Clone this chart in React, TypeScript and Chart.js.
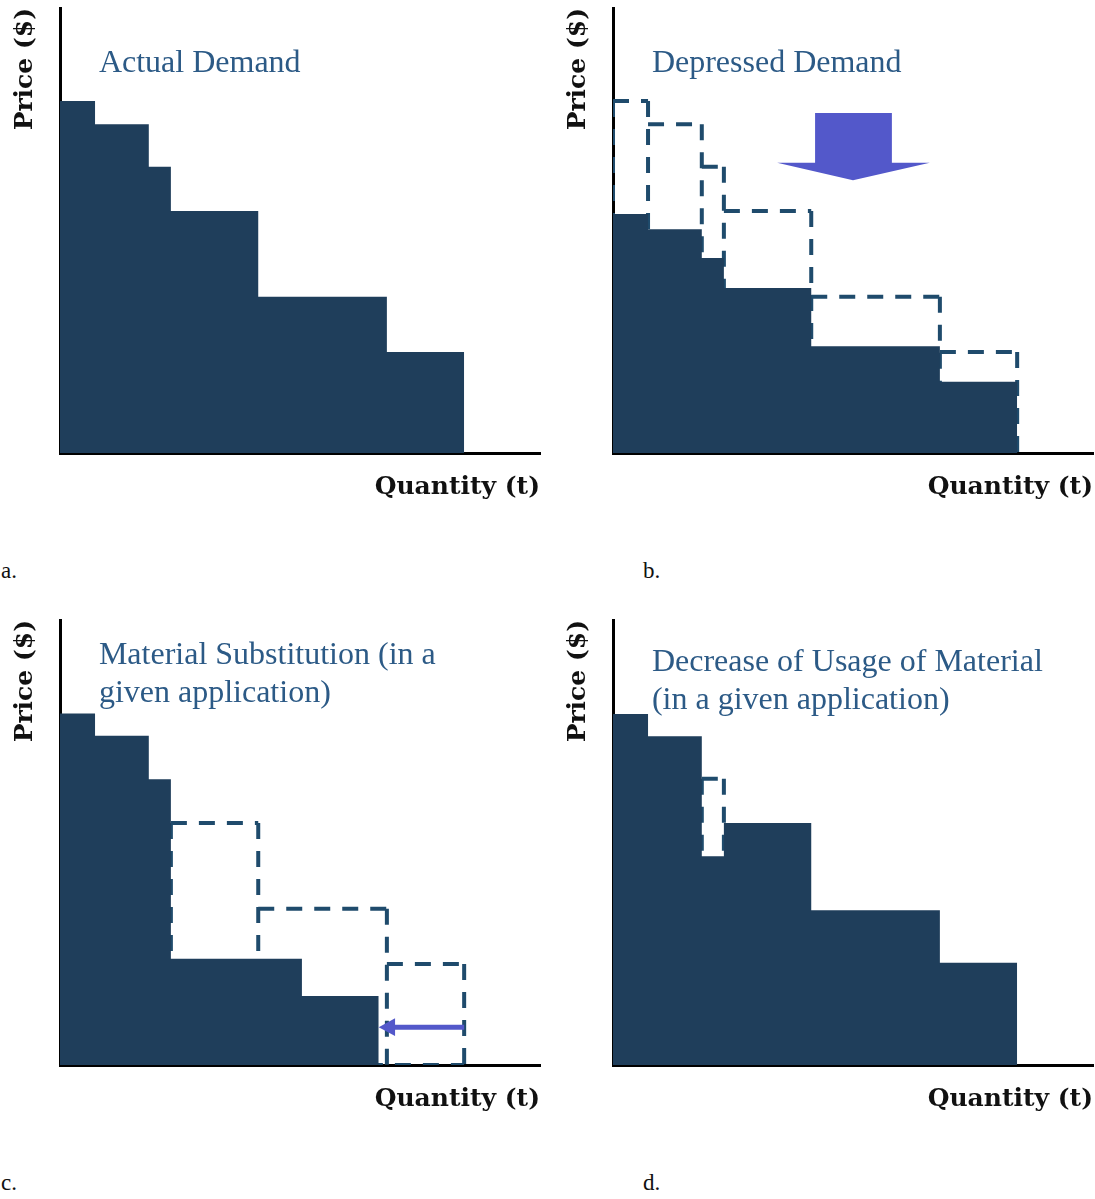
import React, { useEffect, useRef } from "react";
import { Chart, registerables } from "chart.js";

Chart.register(...registerables);

// ---------- Data (quantity 0–100 along x, price 0–100 along y) ----------
const quantityEdges = [0, 7.3, 18.5, 23.1, 41.3, 68.1, 84.2];
const actualPrice = [79.1, 73.9, 64.3, 54.4, 35.1, 22.7];
const depressedPrice = [53.7, 50.3, 43.8, 37.1, 24.0, 16.0];
const substitutionEdges = [0, 7.3, 18.5, 23.1, 50.4, 66.4];
const substitutionPrice = [79.0, 74.0, 64.2, 23.9, 15.5];
const usagePrice = [78.9, 73.9, 46.9, 54.4, 34.8, 23.0];

const allSteps = [0, 1, 2, 3, 4, 5];
const substitutedSteps = [3, 4, 5];
const reducedSteps = [2];

const titleA = ["Actual Demand"];
const titleB = ["Depressed Demand"];
const titleC = ["Material Substitution (in a", "given application)"];
const titleD = ["Decrease of Usage of Material", "(in a given application)"];
const titleBaselinesAB = [85.6];
const titleBaselinesC = [90.1, 81.6];
const titleBaselinesD = [88.5, 80.0];
const titleQuantity = 8.1;

// Block arrow (panel b) in data units
const downArrowShaftQ = [42.1, 58.1];
const downArrowShaftPrice = [76.4, 65.2];
const downArrowHeadQ = [34.2, 66.0];
const downArrowTip = [50.0, 61.3];

// Left arrow (panel c) in data units
const leftArrowQ = [84.2, 66.4];
const leftArrowPrice = 8.5;
const leftArrowHead = [3.4, 2.0]; // head length (quantity), half height (price)

const xAxisTitle = "Quantity (t)";
const yAxisTitle = "Price ($)";
const panelLabels = ["a.", "b.", "c.", "d."];

// ---------- Styles ----------
const FILL = "#1f3e5b";
const DASH = "#1f4b6c";
const TITLE_COLOR = "#2c5a86";
const ARROW = "#5358ca";

type Pt = { x: number; y: number | null };

function stepArea(edges: number[], prices: number[]): Pt[] {
  const pts: Pt[] = [];
  prices.forEach((p, i) => {
    pts.push({ x: edges[i], y: p });
    pts.push({ x: edges[i + 1], y: p });
  });
  pts.push({ x: edges[edges.length - 1], y: 0 });
  return pts;
}

function dashedOutline(edges: number[], prices: number[], idx: number[]): Pt[] {
  const pts: Pt[] = [];
  const gap = (x: number) => pts.push({ x, y: null });
  idx.forEach((i) => {
    pts.push({ x: edges[i], y: prices[i] });
    pts.push({ x: edges[i + 1], y: prices[i] });
    gap(edges[i + 1]);
  });
  const first = idx[0];
  const last = idx[idx.length - 1];
  for (let k = first; k <= last + 1; k++) {
    const hs: number[] = [];
    if (idx.includes(k - 1)) hs.push(prices[k - 1]);
    if (idx.includes(k)) hs.push(prices[k]);
    const h = Math.max(...hs);
    pts.push({ x: edges[k], y: h });
    pts.push({ x: edges[k], y: 0 });
    gap(edges[k]);
  }
  pts.push({ x: edges[first], y: 0 });
  pts.push({ x: edges[last + 1], y: 0 });
  return pts;
}

function titlePlugin(lines: string[], baselines: number[]) {
  return {
    id: "panelTitle",
    afterDatasetsDraw(chart: any) {
      const { ctx, scales } = chart;
      ctx.save();
      ctx.font = "32px 'Liberation Serif'";
      ctx.fillStyle = TITLE_COLOR;
      ctx.textAlign = "left";
      ctx.textBaseline = "alphabetic";
      lines.forEach((t, i) => {
        ctx.fillText(t, scales.x.getPixelForValue(titleQuantity), scales.y.getPixelForValue(baselines[i]));
      });
      ctx.restore();
    },
  };
}

const downArrowPlugin = {
  id: "downArrow",
  afterDatasetsDraw(chart: any) {
    const { ctx, scales } = chart;
    const X = (v: number) => scales.x.getPixelForValue(v);
    const Y = (v: number) => scales.y.getPixelForValue(v);
    ctx.save();
    ctx.fillStyle = ARROW;
    ctx.beginPath();
    ctx.moveTo(X(downArrowShaftQ[0]), Y(downArrowShaftPrice[0]));
    ctx.lineTo(X(downArrowShaftQ[1]), Y(downArrowShaftPrice[0]));
    ctx.lineTo(X(downArrowShaftQ[1]), Y(downArrowShaftPrice[1]));
    ctx.lineTo(X(downArrowHeadQ[1]), Y(downArrowShaftPrice[1]));
    ctx.lineTo(X(downArrowTip[0]), Y(downArrowTip[1]));
    ctx.lineTo(X(downArrowHeadQ[0]), Y(downArrowShaftPrice[1]));
    ctx.lineTo(X(downArrowShaftQ[0]), Y(downArrowShaftPrice[1]));
    ctx.closePath();
    ctx.fill();
    ctx.restore();
  },
};

const leftArrowPlugin = {
  id: "leftArrow",
  afterDatasetsDraw(chart: any) {
    const { ctx, scales } = chart;
    const X = (v: number) => scales.x.getPixelForValue(v);
    const Y = (v: number) => scales.y.getPixelForValue(v);
    ctx.save();
    ctx.strokeStyle = ARROW;
    ctx.fillStyle = ARROW;
    ctx.lineWidth = 5;
    ctx.beginPath();
    ctx.moveTo(X(leftArrowQ[0]), Y(leftArrowPrice));
    ctx.lineTo(X(leftArrowQ[1] + leftArrowHead[0] * 0.8), Y(leftArrowPrice));
    ctx.stroke();
    ctx.beginPath();
    ctx.moveTo(X(leftArrowQ[1]), Y(leftArrowPrice));
    ctx.lineTo(X(leftArrowQ[1] + leftArrowHead[0]), Y(leftArrowPrice + leftArrowHead[1]));
    ctx.lineTo(X(leftArrowQ[1] + leftArrowHead[0]), Y(leftArrowPrice - leftArrowHead[1]));
    ctx.closePath();
    ctx.fill();
    ctx.restore();
  },
};

function makeConfig(datasets: any[], plugins: any[], rightPad: number) {
  const axisFont = { family: "'DejaVu Serif'", size: 25, weight: "bold" as const };
  return {
    type: "scatter" as const,
    data: { datasets },
    options: {
      animation: false as const,
      responsive: false,
      events: [],
      layout: { padding: { top: 8, right: rightPad, left: 0, bottom: 0 } },
      plugins: { legend: { display: false }, tooltip: { enabled: false } },
      scales: {
        x: {
          type: "linear" as const,
          min: 0,
          max: 100,
          z: 1,
          ticks: { display: false },
          grid: { display: false, drawTicks: false, tickLength: 0 },
          border: { display: true, color: "#000", width: 3 },
          title: {
            display: true,
            text: xAxisTitle,
            align: "end" as const,
            color: "#111",
            font: axisFont,
            padding: { top: 19, bottom: 18 },
          },
        },
        y: {
          type: "linear" as const,
          min: 0,
          max: 100,
          z: 1,
          ticks: { display: false },
          grid: { display: false, drawTicks: false, tickLength: 0 },
          border: { display: true, color: "#000", width: 3 },
          title: {
            display: true,
            text: yAxisTitle,
            align: "end" as const,
            color: "#111",
            font: axisFont,
            padding: { top: 10, bottom: 20 },
          },
        },
      },
    },
    plugins,
  };
}

function areaDataset(data: Pt[]) {
  return {
    data,
    showLine: true,
    borderWidth: 0,
    borderColor: FILL,
    backgroundColor: FILL,
    fill: "origin",
    pointRadius: 0,
  };
}

function dashDataset(data: Pt[]) {
  return {
    data,
    showLine: true,
    spanGaps: false,
    borderWidth: 4,
    borderColor: DASH,
    borderDash: [16, 12],
    borderCapStyle: "butt",
    fill: false,
    pointRadius: 0,
  };
}

function Panel({ left, top, width, build }: { left: number; top: number; width: number; build: () => any }) {
  const ref = useRef<HTMLCanvasElement | null>(null);
  useEffect(() => {
    if (!ref.current) return;
    const chart = new Chart(ref.current, build());
    return () => chart.destroy();
  }, []);
  return (
    <canvas
      ref={ref}
      width={width}
      height={520}
      style={{ position: "absolute", left, top, width, height: 520, display: "block" }}
    />
  );
}

const labelStyle = (left: number, top: number): React.CSSProperties => ({
  position: "absolute",
  left,
  top,
  fontFamily: "'Liberation Serif', serif",
  fontSize: 23,
  lineHeight: "23px",
  color: "#111",
});

export default function App() {
  return (
    <div style={{ position: "absolute", left: 0, top: 0, width: 1095, height: 1199, overflow: "hidden", background: "#fff" }}>
      <Panel
        left={0}
        top={0}
        width={550}
        build={() =>
          makeConfig([areaDataset(stepArea(quantityEdges, actualPrice))], [titlePlugin(titleA, titleBaselinesAB)], 10)
        }
      />
      <Panel
        left={553}
        top={0}
        width={542}
        build={() =>
          makeConfig(
            [
              areaDataset(stepArea(quantityEdges, depressedPrice)),
              dashDataset(dashedOutline(quantityEdges, actualPrice, allSteps)),
            ],
            [titlePlugin(titleB, titleBaselinesAB), downArrowPlugin],
            2
          )
        }
      />
      <Panel
        left={0}
        top={612}
        width={550}
        build={() =>
          makeConfig(
            [
              areaDataset(stepArea(substitutionEdges, substitutionPrice)),
              dashDataset(dashedOutline(quantityEdges, actualPrice, substitutedSteps)),
            ],
            [titlePlugin(titleC, titleBaselinesC), leftArrowPlugin],
            10
          )
        }
      />
      <Panel
        left={553}
        top={612}
        width={542}
        build={() =>
          makeConfig(
            [
              areaDataset(stepArea(quantityEdges, usagePrice)),
              dashDataset(dashedOutline(quantityEdges, actualPrice, reducedSteps)),
            ],
            [titlePlugin(titleD, titleBaselinesD)],
            2
          )
        }
      />
      <div style={labelStyle(1, 559)}>{panelLabels[0]}</div>
      <div style={labelStyle(643, 559)}>{panelLabels[1]}</div>
      <div style={labelStyle(1, 1171)}>{panelLabels[2]}</div>
      <div style={labelStyle(643, 1171)}>{panelLabels[3]}</div>
    </div>
  );
}
